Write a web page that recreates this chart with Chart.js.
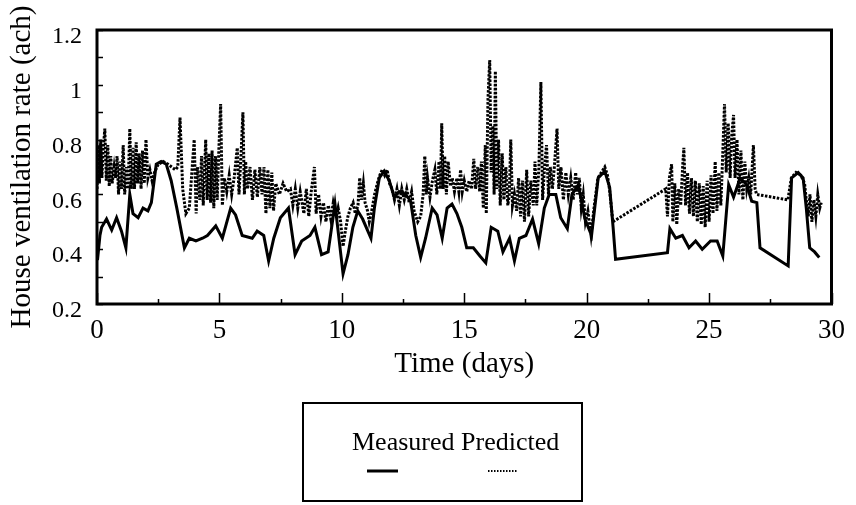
<!DOCTYPE html>
<html>
<head>
<meta charset="utf-8">
<script src="https://cdn.jsdelivr.net/npm/chart.js@4"></script>
<style>
  html, body { margin: 0; padding: 0; background: #fff; }
  canvas { display: block; }
</style>
</head>
<body>
<canvas id="ventChart" width="856" height="505"></canvas>
<script>
const xTickValues = [0, 5, 10, 15, 20, 25, 30];
const yTickValues = [0.2, 0.4, 0.6, 0.8, 1, 1.2];

const measuredDays = [
  0.02, 0.12, 0.19, 0.39, 0.6, 0.8, 1.0, 1.18, 1.34, 1.47, 1.68, 1.88, 2.08, 2.22, 2.42, 2.62, 2.83,
  3.03, 3.26, 3.57, 3.77, 4.04, 4.31, 4.51, 4.85, 5.12, 5.46, 5.66, 5.93, 6.34, 6.54, 6.81, 7.01,
  7.22, 7.49, 7.82, 8.09, 8.36, 8.7, 8.9, 9.17, 9.44, 9.72, 10.05, 10.25, 10.45, 10.65, 10.85, 11.19,
  11.33, 11.53, 11.73, 11.94, 12.14, 12.34, 12.61, 12.81, 13.02, 13.22, 13.42, 13.69, 13.89, 14.1,
  14.3, 14.5, 14.7, 14.9, 15.1, 15.37, 15.64, 15.88, 16.1, 16.37, 16.58, 16.85, 17.05, 17.25, 17.52,
  17.79, 18.04, 18.27, 18.47, 18.74, 18.94, 19.21, 19.4, 19.66, 19.93, 20.2, 20.47, 20.74, 20.94,
  21.08, 21.18, 23.3, 23.4, 23.64, 23.91, 24.18, 24.45, 24.72, 25.06, 25.33, 25.56, 25.8, 26.0,
  26.27, 26.54, 26.74, 26.95, 27.08, 28.23, 28.37, 28.64, 28.84, 28.97, 29.11, 29.31, 29.5
];
const measuredValues = [
  0.36, 0.45, 0.48, 0.51, 0.47, 0.515, 0.466, 0.405, 0.6, 0.53, 0.515, 0.55, 0.54, 0.57, 0.71, 0.72, 0.71,
  0.65, 0.55, 0.405, 0.44, 0.43, 0.44, 0.45, 0.485, 0.44, 0.55, 0.525, 0.45, 0.44, 0.466, 0.45, 0.357,
  0.44, 0.515, 0.55, 0.38, 0.43, 0.45, 0.48, 0.38, 0.39, 0.565, 0.31, 0.38, 0.48, 0.54, 0.51, 0.44,
  0.55, 0.66, 0.685, 0.65, 0.59, 0.61, 0.6, 0.575, 0.45, 0.37, 0.44, 0.55, 0.525, 0.44,
  0.55, 0.565, 0.53, 0.48, 0.405, 0.405, 0.375, 0.35, 0.48, 0.466, 0.39, 0.44, 0.357, 0.44, 0.45,
  0.51, 0.42, 0.55, 0.6, 0.6, 0.515, 0.475, 0.6, 0.635, 0.51, 0.45, 0.66, 0.685, 0.625,
  0.48, 0.363, 0.387, 0.475, 0.44, 0.45, 0.405, 0.43, 0.4, 0.43, 0.43, 0.375, 0.635, 0.59,
  0.66, 0.635, 0.575, 0.57, 0.405, 0.339, 0.66, 0.68, 0.66, 0.55, 0.405, 0.39, 0.37
];

const predictedDays = [
  0.0, 0.05, 0.1, 0.15, 0.2, 0.25, 0.32, 0.38, 0.44, 0.5, 0.56, 0.62, 0.7, 0.76, 0.82, 0.88, 0.94, 1.0,
  1.07, 1.13, 1.2, 1.27, 1.34, 1.4, 1.47, 1.53, 1.6, 1.66, 1.72, 1.8, 1.86, 1.93, 2.0, 2.08, 2.16, 2.25,
  2.35, 2.5, 2.7, 2.9, 3.05, 3.2, 3.3, 3.39, 3.5, 3.63, 3.77, 3.97, 4.05, 4.1, 4.2, 4.27, 4.34, 4.44,
  4.5, 4.57, 4.64, 4.7, 4.77, 4.84, 4.91, 4.98, 5.05, 5.12, 5.2, 5.3, 5.4, 5.5, 5.6, 5.73, 5.8, 5.88,
  5.96, 6.02, 6.07, 6.15, 6.25, 6.35, 6.45, 6.55, 6.65, 6.74, 6.82, 6.9, 6.98, 7.06, 7.14, 7.21, 7.3,
  7.45, 7.6, 7.75, 7.9, 8.0, 8.1, 8.2, 8.3, 8.45, 8.55, 8.65, 8.75, 8.88, 8.95, 9.05, 9.15, 9.25, 9.35,
  9.45, 9.55, 9.65, 9.78, 9.85, 9.95, 10.05, 10.15, 10.25, 10.35, 10.46, 10.55, 10.66, 10.73, 10.8,
  10.88, 10.95, 11.05, 11.12, 11.2, 11.34, 11.45, 11.55, 11.65, 11.75, 11.85, 11.95, 12.05, 12.15,
  12.25, 12.35, 12.45, 12.55, 12.65, 12.75, 12.85, 12.95, 13.1, 13.22, 13.32, 13.39, 13.45, 13.5, 13.6,
  13.7, 13.8, 13.88, 13.97, 14.03, 14.08, 14.14, 14.2, 14.27, 14.34, 14.44, 14.51, 14.6, 14.7, 14.78,
  14.85, 14.92, 15.0, 15.1, 15.2, 15.3, 15.39, 15.46, 15.55, 15.63, 15.7, 15.78, 15.86, 15.9, 15.97,
  16.04, 16.1, 16.17, 16.22, 16.27, 16.33, 16.4, 16.47, 16.55, 16.62, 16.7, 16.78, 16.84, 16.9, 16.97,
  17.05, 17.14, 17.22, 17.3, 17.38, 17.46, 17.55, 17.63, 17.72, 17.82, 17.89, 17.96, 18.05, 18.13,
  18.2, 18.28, 18.36, 18.44, 18.52, 18.6, 18.68, 18.79, 18.86, 18.95, 19.05, 19.15, 19.25, 19.35,
  19.45, 19.55, 19.62, 19.7, 19.78, 19.86, 19.95, 20.05, 20.18, 20.3, 20.46, 20.6, 20.74, 20.85, 20.93,
  21.07, 23.23, 23.3, 23.38, 23.47, 23.52, 23.6, 23.68, 23.76, 23.84, 23.92, 23.97, 24.04, 24.12, 24.2,
  24.28, 24.36, 24.44, 24.52, 24.6, 24.68, 24.76, 24.84, 24.92, 25.0, 25.08, 25.16, 25.25, 25.32, 25.4,
  25.48, 25.56, 25.63, 25.7, 25.78, 25.86, 25.93, 26.0, 26.06, 26.14, 26.22, 26.3, 26.38, 26.46, 26.54,
  26.62, 26.7, 26.81, 26.88, 26.94, 28.22, 28.36, 28.55, 28.75, 28.9, 28.97, 29.05, 29.12, 29.2, 29.28,
  29.36, 29.44, 29.52, 29.58
];
const predictedValues = [
  0.62, 0.78, 0.64, 0.8, 0.66, 0.76, 0.84, 0.65, 0.78, 0.63, 0.74, 0.64, 0.7, 0.66, 0.74, 0.6, 0.72, 0.62,
  0.78, 0.6, 0.7, 0.62, 0.84, 0.62, 0.77, 0.62, 0.79, 0.64, 0.75, 0.62, 0.76, 0.64, 0.8, 0.66, 0.69, 0.65,
  0.68, 0.71, 0.72, 0.71, 0.7, 0.69, 0.7, 0.88, 0.62, 0.53, 0.55, 0.8, 0.53, 0.7, 0.58, 0.74, 0.56, 0.8,
  0.58, 0.75, 0.57, 0.76, 0.55, 0.74, 0.58, 0.77, 0.93, 0.56, 0.66, 0.61, 0.67, 0.6, 0.66, 0.77, 0.6, 0.74,
  0.9, 0.6, 0.72, 0.62, 0.7, 0.58, 0.69, 0.59, 0.7, 0.6, 0.7, 0.53, 0.69, 0.55, 0.68, 0.54, 0.64,
  0.6, 0.64, 0.61, 0.62, 0.56, 0.62, 0.55, 0.61, 0.53, 0.62, 0.52, 0.61, 0.7, 0.53, 0.6, 0.52, 0.57, 0.5,
  0.56, 0.51, 0.57, 0.52, 0.55, 0.5, 0.41, 0.47, 0.52, 0.55, 0.57, 0.53, 0.56, 0.66, 0.58,
  0.64, 0.57, 0.54, 0.5, 0.53, 0.6, 0.64, 0.67, 0.69, 0.67, 0.69, 0.64, 0.62, 0.58,
  0.62, 0.56, 0.62, 0.58, 0.62, 0.57, 0.61, 0.54, 0.5, 0.52, 0.6, 0.74, 0.6, 0.66, 0.59,
  0.65, 0.69, 0.6, 0.72, 0.62, 0.86, 0.62, 0.74, 0.6, 0.72, 0.63, 0.66, 0.61, 0.66, 0.61,
  0.69, 0.61, 0.65, 0.61, 0.65, 0.62, 0.73, 0.62, 0.7, 0.61, 0.72, 0.55, 0.78, 0.53, 0.95,
  1.09, 0.68, 0.85, 0.6, 1.05, 0.62, 0.8, 0.56, 0.75, 0.58, 0.7, 0.56, 0.6, 0.8, 0.56,
  0.6, 0.54, 0.66, 0.52, 0.65, 0.5, 0.69, 0.52, 0.65, 0.56, 0.72, 0.56, 0.7, 1.01,
  0.58, 0.7, 0.78, 0.6, 0.7, 0.62, 0.7, 0.84, 0.62, 0.7, 0.58, 0.68, 0.6, 0.66,
  0.58, 0.68, 0.6, 0.66, 0.55, 0.6, 0.5, 0.54, 0.45, 0.55, 0.66, 0.68, 0.7, 0.67, 0.62,
  0.5, 0.62, 0.52, 0.66, 0.71, 0.5, 0.64, 0.49, 0.62, 0.56, 0.7, 0.77, 0.56, 0.68, 0.53,
  0.66, 0.52, 0.65, 0.5, 0.64, 0.49, 0.63, 0.48, 0.65, 0.5, 0.67, 0.53, 0.72, 0.54, 0.68,
  0.56, 0.75, 0.93, 0.68, 0.86, 0.66, 0.82, 0.89, 0.66, 0.8, 0.6, 0.76, 0.58, 0.72, 0.62,
  0.66, 0.6, 0.78, 0.62, 0.6, 0.58, 0.66, 0.68, 0.67, 0.64, 0.58, 0.52, 0.6, 0.5, 0.58,
  0.52, 0.6, 0.55, 0.57
];

const seriesNames = ["Measured", "Predicted"];
const serif = "'Liberation Serif', 'Times New Roman', serif";

function toPoints(days, values) {
  return days.map((d, i) => ({ x: d, y: values[i] }));
}

// box, inward ticks and the boxed legend under the axis title
const framePlugin = {
  id: "frame",
  afterDraw(chart) {
    const ctx = chart.ctx;
    const a = chart.chartArea;
    const xs = chart.scales.x;
    const ys = chart.scales.y;
    ctx.save();
    ctx.strokeStyle = "#000";
    ctx.lineWidth = 3;
    ctx.strokeRect(a.left, a.top, a.right - a.left, a.bottom - a.top);

    ctx.lineWidth = 1.5;
    ctx.beginPath();
    for (let v = 0; v <= 30; v += 2.5) {
      const px = Math.round(xs.getPixelForValue(v)) + 0.5;
      const len = v % 5 === 0 ? 11 : 5;
      ctx.moveTo(px, a.bottom);
      ctx.lineTo(px, a.bottom - len);
    }
    for (let i = 2; i <= 12; i++) {
      const py = Math.round(ys.getPixelForValue(i / 10)) + 0.5;
      ctx.moveTo(a.left, py);
      ctx.lineTo(a.left + 6, py);
    }
    ctx.stroke();

    // legend
    ctx.lineWidth = 2;
    ctx.strokeRect(303, 403, 279, 98);
    ctx.fillStyle = "#000";
    ctx.font = "26px " + serif;
    ctx.textBaseline = "alphabetic";
    ctx.textAlign = "left";
    const label = chart.data.datasets.map(ds => ds.label).join(" ");
    ctx.fillText(label, 352, 450);

    ctx.lineWidth = 3;
    ctx.beginPath();
    ctx.moveTo(367, 471);
    ctx.lineTo(398, 471);
    ctx.stroke();

    ctx.lineWidth = 2;
    ctx.setLineDash([1.5, 1.5]);
    ctx.beginPath();
    ctx.moveTo(488, 471);
    ctx.lineTo(517, 471);
    ctx.stroke();
    ctx.restore();
  }
};

new Chart(document.getElementById("ventChart"), {
  type: "line",
  data: {
    datasets: [
      {
        label: seriesNames[0],
        data: toPoints(measuredDays, measuredValues),
        borderColor: "#000",
        borderWidth: 3,
        pointRadius: 0,
        tension: 0
      },
      {
        label: seriesNames[1],
        data: toPoints(predictedDays, predictedValues),
        borderColor: "#000",
        borderWidth: 3,
        borderDash: [2.5, 1.5],
        pointRadius: 0,
        tension: 0
      }
    ]
  },
  options: {
    responsive: false,
    animation: false,
    layout: { padding: { left: 0, right: 19, top: 30, bottom: 123 } },
    plugins: {
      legend: { display: false },
      tooltip: { enabled: false }
    },
    scales: {
      x: {
        type: "linear",
        min: 0,
        max: 30,
        afterBuildTicks: scale => { scale.ticks = xTickValues.map(v => ({ value: v })); },
        afterFit: scale => { scale.height = 78; },
        grid: { display: false, drawTicks: false },
        border: { display: false },
        ticks: {
          padding: 11,
          color: "#000",
          font: { family: serif, size: 27 },
          maxRotation: 0,
          callback: v => String(v)
        },
        title: {
          display: true,
          text: "Time (days)",
          color: "#000",
          font: { family: serif, size: 29 },
          padding: { top: 0, bottom: 0 }
        }
      },
      y: {
        min: 0.2,
        max: 1.2,
        afterBuildTicks: scale => { scale.ticks = yTickValues.map(v => ({ value: v })); },
        afterFit: scale => { scale.width = 97; },
        grid: { display: false, drawTicks: false },
        border: { display: false },
        ticks: {
          padding: 15,
          labelOffset: 7,
          color: "#000",
          font: { family: serif, size: 24 },
          callback: v => String(v)
        },
        title: {
          display: true,
          text: "House ventilation rate (ach)",
          color: "#000",
          font: { family: serif, size: 29 },
          padding: { top: 5, bottom: 0 }
        }
      }
    }
  },
  plugins: [framePlugin]
});
</script>
</body>
</html>
